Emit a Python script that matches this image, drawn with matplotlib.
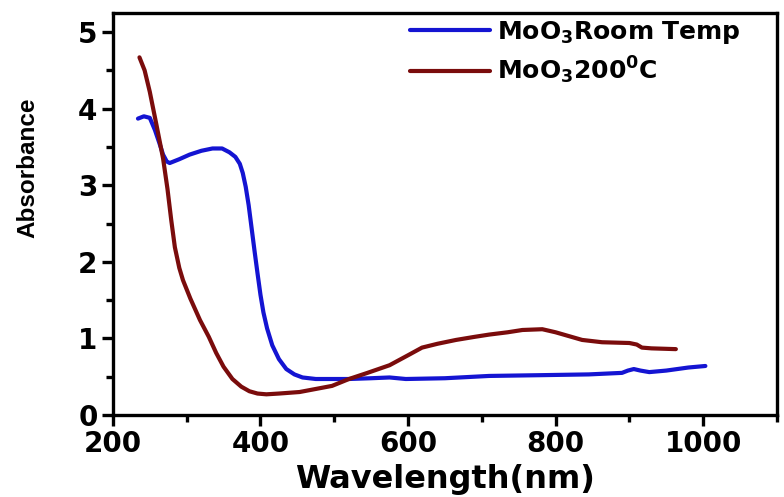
import matplotlib
matplotlib.use("Agg")
import matplotlib.pyplot as plt
from matplotlib.ticker import MultipleLocator

plt.rcParams['mathtext.default'] = 'bf'
plt.rcParams['mathtext.fontset'] = 'dejavusans'

# Room temperature MoO3 spectrum
rt_wavelength = [234, 242, 250, 257, 263, 268, 273, 277, 290, 304, 320, 335, 348, 358, 366,
                 372, 376, 380, 384, 388, 392, 396, 400, 404, 409, 416, 425, 435, 446, 457,
                 475, 500, 520, 550, 575, 597, 650, 710, 780, 845, 890, 898, 906, 915, 927,
                 950, 980, 1003]
rt_absorb = [3.87, 3.90, 3.88, 3.72, 3.55, 3.40, 3.31, 3.29, 3.34, 3.40, 3.45, 3.48, 3.48, 3.43, 3.37,
             3.28, 3.16, 2.98, 2.74, 2.44, 2.14, 1.85, 1.57, 1.34, 1.13, 0.91, 0.73, 0.60, 0.53, 0.49,
             0.47, 0.47, 0.47, 0.48, 0.49, 0.47, 0.48, 0.51, 0.52, 0.53, 0.55, 0.58, 0.60, 0.58, 0.56,
             0.58, 0.62, 0.64]

# 200 C MoO3 spectrum
ht_wavelength = [236, 243, 250, 259, 268, 274, 279, 284, 290, 295, 305, 318, 330, 340, 350,
                 362, 374, 385, 396, 408, 425, 453, 475, 497, 520, 545, 575, 600, 619, 640,
                 665, 690, 710, 735, 755, 782, 800, 818, 836, 863, 900, 910, 917, 930, 963]
ht_absorb = [4.67, 4.50, 4.22, 3.79, 3.35, 2.95, 2.55, 2.19, 1.92, 1.76, 1.52, 1.24, 1.02, 0.81, 0.63,
             0.47, 0.37, 0.31, 0.28, 0.27, 0.28, 0.30, 0.34, 0.38, 0.47, 0.55, 0.65, 0.78, 0.88, 0.93,
             0.98, 1.02, 1.05, 1.08, 1.11, 1.12, 1.08, 1.03, 0.98, 0.95, 0.94, 0.92, 0.88, 0.87, 0.86]

labels = [r'MoO$_3$Room Temp', r'MoO$_3$200$^0$C']
colors = ['#1414d2', '#7a0c0c']

x_ticks = [200, 400, 600, 800, 1000]
y_ticks = [0, 1, 2, 3, 4, 5]

fig = plt.figure(figsize=(7.84, 4.97), dpi=100)
ax = fig.add_axes([0.144, 0.165, 0.847, 0.809])

ax.plot(rt_wavelength, rt_absorb, color=colors[0], lw=3.0, label=labels[0],
        solid_capstyle='round', solid_joinstyle='round')
ax.plot(ht_wavelength, ht_absorb, color=colors[1], lw=3.0, label=labels[1],
        solid_capstyle='round', solid_joinstyle='round')

ax.set_xlim(200, 1100)
ax.set_ylim(0, 5.25)
ax.set_xticks(x_ticks)
ax.set_yticks(y_ticks)
ax.xaxis.set_minor_locator(MultipleLocator(100))
ax.yaxis.set_minor_locator(MultipleLocator(0.5))

for s in ax.spines.values():
    s.set_linewidth(2.4)

ax.tick_params(which='major', direction='out', length=8, width=2.4,
               labelsize=20, pad=3)
ax.tick_params(which='minor', direction='out', length=5, width=2.4)
ax.tick_params(top=False, right=False, which='both')
for lab in ax.get_xticklabels() + ax.get_yticklabels():
    lab.set_fontweight('bold')
    lab.set_family('DejaVu Sans')

ax.set_xlabel('Wavelength(nm)', fontsize=23, fontweight='bold', family='DejaVu Sans',
              labelpad=4)
ax.set_ylabel('Absorbance', fontsize=17.5, fontweight='bold',
              family=['Liberation Sans', 'DejaVu Sans'])
ax.yaxis.set_label_coords(-0.11, 0.614)

leg = ax.legend(loc='upper left', bbox_to_anchor=(0.447, 0.985), frameon=False,
                prop={'family': 'DejaVu Sans', 'weight': 'bold', 'size': 18},
                handlelength=3.2, handletextpad=0.3, labelspacing=0.35,
                borderpad=0, borderaxespad=0)
for line in leg.get_lines():
    line.set_linewidth(3.0)

fig.savefig('out.png', dpi=100)
